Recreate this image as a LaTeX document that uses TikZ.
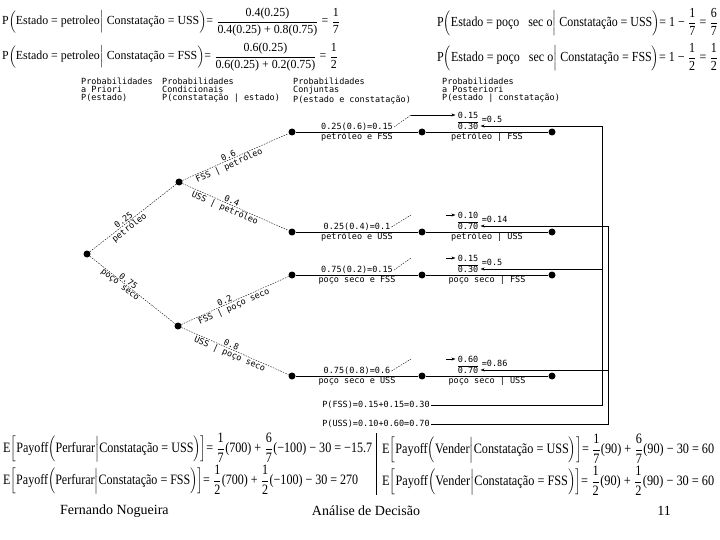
\documentclass[tikz,border=0pt]{standalone}
\usepackage{amsmath}
\usepackage{graphicx}
\usepackage{fontspec}
\setmainfont{Liberation Serif}
\newfontfamily\treefont{DejaVu Sans Mono}
\usetikzlibrary{arrows.meta}
\tikzset{
  chance/.style  = {circle, fill=black, minimum size=7pt, inner sep=0pt},
  branch/.style  = {thin, dash pattern=on 1.5pt off 1.2pt},
  lbl/.style     = {font=\treefont\fontsize{8.5}{8}\selectfont, inner sep=1pt},
  hdr/.style     = {lbl, align=left, anchor=north west, inner sep=0pt},
  toarrow/.style = {thin, -{Stealth[length=4pt,width=3pt]}},
  eqn/.style     = {anchor=west, inner sep=0pt},
  foot/.style    = {font=\fontsize{14}{16}\selectfont, inner sep=0pt}
}
\newcommand{\fr}[2]{$\dfrac{\text{#1}}{\text{#2}}$}
\newcommand{\eqfit}[3]{\resizebox*{#1}{#2}{#3}}

\begin{document}
\begin{tikzpicture}[x=1pt, y=-1pt]
  \fill[white] (0,0) rectangle (720,540);
  \useasboundingbox (0,0) rectangle (720,540);
  % Bayes formulas
  \node[eqn] (eqpu) at (2,22) {\eqfit{338pt}{28pt}{P$\Bigl($Estado = petroleo$\Bigm|$ Constatação = USS$\Bigr)$= \fr{0.4(0.25)}{0.4(0.25) + 0.8(0.75)} = \fr{1}{7}}};
  \node[eqn] (eqpf) at (2,57) {\eqfit{336pt}{28pt}{P$\Bigl($Estado = petroleo$\Bigm|$ Constatação = FSS$\Bigr)$= \fr{0.6(0.25)}{0.6(0.25) + 0.2(0.75)} = \fr{1}{2}}};
  \node[eqn] (eqsu) at (437,22) {\eqfit{281pt}{28pt}{P$\Bigl($Estado = poço \ \ sec o$\Bigm|$ Constatação = USS$\Bigr)$= 1 − \fr{1}{7} = \fr{6}{7}}};
  \node[eqn] (eqsf) at (437,57) {\eqfit{281pt}{28pt}{P$\Bigl($Estado = poço \ \ sec o$\Bigm|$ Constatação = FSS$\Bigr)$= 1 − \fr{1}{2} = \fr{1}{2}}};
  % Column headers
  \node[hdr] (hprio) at (81,78)  {Probabilidades\\a Priori\\P(estado)};
  \node[hdr] (hcond) at (162,78) {Probabilidades\\Condicionais\\P(constatação | estado)};
  \node[hdr] (hconj) at (293,78) {Probabilidades\\Conjuntas\\P(estado e constatação)};
  \node[hdr] (hpost) at (442,78) {Probabilidades\\a Posteriori\\P(estado | constatação)};
  % Tree nodes
  \node[chance] (root) at (87,254) {};
  \node[chance] (pet)  at (179,182) {};
  \node[chance] (sec)  at (178,326) {};
  \node[chance] (lpf)  at (292,132) {};
  \node[chance] (lpu)  at (292,232) {};
  \node[chance] (lsf)  at (292,275) {};
  \node[chance] (lsu)  at (292,376) {};
  \node[chance] (jpf)  at (422,132) {};
  \node[chance] (jpu)  at (422,232) {};
  \node[chance] (jsf)  at (422,275) {};
  \node[chance] (jsu)  at (422,376) {};
  \node[chance] (qpf)  at (552,132) {};
  \node[chance] (qpu)  at (552,232) {};
  \node[chance] (qsf)  at (552,275) {};
  \node[chance] (qsu)  at (552,376) {};
  % Branches
  \draw[branch] (root) -- node[lbl,above,sloped,pos=0.42]{0.25} node[lbl,below,sloped,pos=0.42]{petróleo} (pet);
  \draw[branch] (root) -- node[lbl,above,sloped,pos=0.42]{0.75} node[lbl,below,sloped,pos=0.38]{poço seco} (sec);
  \draw[branch] (pet) -- node[lbl,above,sloped,pos=0.45]{0.6} node[lbl,below,sloped,pos=0.42]{FSS | petróleo} (lpf);
  \draw[branch] (pet) -- node[lbl,above,sloped,pos=0.45]{0.4} node[lbl,below,sloped,pos=0.42]{USS | petróleo} (lpu);
  \draw[branch] (sec) -- node[lbl,above,sloped,pos=0.42]{0.2} node[lbl,below,sloped,pos=0.47]{FSS | poço seco} (lsf);
  \draw[branch] (sec) -- node[lbl,above,sloped,pos=0.45]{0.8} node[lbl,below,sloped,pos=0.47]{USS | poço seco} (lsu);
  % Joint and posterior rows
  \draw (lpf) -- node[lbl,above](jlpf){0.25(0.6)=0.15} node[lbl,below]{petróleo e FSS} (jpf)
              -- node[lbl,below]{petróleo | FSS} (qpf);
  \draw (lpu) -- node[lbl,above](jlpu){0.25(0.4)=0.1} node[lbl,below]{petróleo e USS} (jpu)
              -- node[lbl,below]{petróleo | USS} (qpu);
  \draw (lsf) -- node[lbl,above](jlsf){0.75(0.2)=0.15} node[lbl,below]{poço seco e FSS} (jsf)
              -- node[lbl,below]{poço seco | FSS} (qsf);
  \draw (lsu) -- node[lbl,above](jlsu){0.75(0.8)=0.6} node[lbl,below]{poço seco e USS} (jsu)
              -- node[lbl,below]{poço seco | USS} (qsu);
  % Posterior fractions
  \node[lbl] (fpf) at (468,121) {\fr{0.15}{0.30}};
  \node[lbl] (fpu) at (468,221) {\fr{0.10}{0.70}};
  \node[lbl] (fsf) at (468,264) {\fr{0.15}{0.30}};
  \node[lbl] (fsu) at (468,365) {\fr{0.60}{0.70}};
  \node[lbl,anchor=west] (vpf) at ([yshift=2pt]fpf.east) {=0.5};
  \node[lbl,anchor=west] (vpu) at ([yshift=2pt]fpu.east) {=0.14};
  \node[lbl,anchor=west] (vsf) at ([yshift=2pt]fsf.east) {=0.5};
  \node[lbl,anchor=west] (vsu) at ([yshift=2pt]fsu.east) {=0.86};
  % Joint value to numerator
  \coordinate (apf) at (411,115);
  \coordinate (apu) at (411,215);
  \coordinate (asf) at (411,258);
  \coordinate (asu) at (411,359);
  \draw[branch] (jlpf.east) -- (apf);
  \draw[branch] (jlpu.east) -- (apu);
  \draw[branch] (jlsf.east) -- (asf);
  \draw[branch] (jlsu.east) -- (asu);
  \draw[toarrow] (apf) -- ([yshift=6pt]fpf.west);
  \coordinate (bpu) at (446,215);
  \coordinate (bsf) at (446,258);
  \coordinate (bsu) at (446,359);
  \draw[toarrow] (bpu) -- ([yshift=6pt]fpu.west);
  \draw[toarrow] (bsf) -- ([yshift=6pt]fsf.west);
  \draw[toarrow] (bsu) -- ([yshift=6pt]fsu.west);
  % Marginals
  \node[lbl] (pfss) at (376,405) {P(FSS)=0.15+0.15=0.30};
  \node[lbl] (puss) at (376,424) {P(USS)=0.10+0.60=0.70};
  \coordinate (mpf) at (602,126);
  \coordinate (msf) at (602,269);
  \coordinate (mfb) at (602,405);
  \coordinate (mpu) at (608,226);
  \coordinate (msu) at (608,370);
  \coordinate (mub) at (608,424);
  \draw (pfss) -- (mfb) -- (mpf);
  \draw (puss) -- (mub) -- (mpu);
  \draw[toarrow] (mpf) -- ([yshift=-5pt]fpf.east);
  \draw[toarrow] (msf) -- ([yshift=-5pt]fsf.east);
  \draw[toarrow] (mpu) -- ([yshift=-5pt]fpu.east);
  \draw[toarrow] (msu) -- ([yshift=-5pt]fsu.east);
  % Expected payoffs
  \node[eqn] (eqdu) at (3,448) {\eqfit{369pt}{29pt}{E$\Bigl[$Payoff$\Bigl($Perfurar$\Bigm|$Constatação = USS$\Bigr)\Bigr]$= \fr{1}{7}(700) + \fr{6}{7}(−100) − 30 = −15.7}};
  \node[eqn] (eqdf) at (3,480) {\eqfit{355pt}{29pt}{E$\Bigl[$Payoff$\Bigl($Perfurar$\Bigm|$Constatação = FSS$\Bigr)\Bigr]$= \fr{1}{2}(700) + \fr{1}{2}(−100) − 30 = 270}};
  \draw (376,433) -- (376,495);
  \node[eqn] (eqvu) at (382,449) {\eqfit{332pt}{29pt}{E$\Bigl[$Payoff$\Bigl($Vender$\Bigm|$Constatação = USS$\Bigr)\Bigr]$= \fr{1}{7}(90) + \fr{6}{7}(90) − 30 = 60}};
  \node[eqn] (eqvf) at (382,481) {\eqfit{332pt}{29pt}{E$\Bigl[$Payoff$\Bigl($Vender$\Bigm|$Constatação = FSS$\Bigr)\Bigr]$= \fr{1}{2}(90) + \fr{1}{2}(90) − 30 = 60}};
  % Footer
  \node[foot,anchor=west] (fname)  at (60,511)  {Fernando Nogueira};
  \node[foot]             (ftitle) at (366,511) {Análise de Decisão};
  \node[foot]             (fpage)  at (664,511) {11};
\end{tikzpicture}
\end{document}
